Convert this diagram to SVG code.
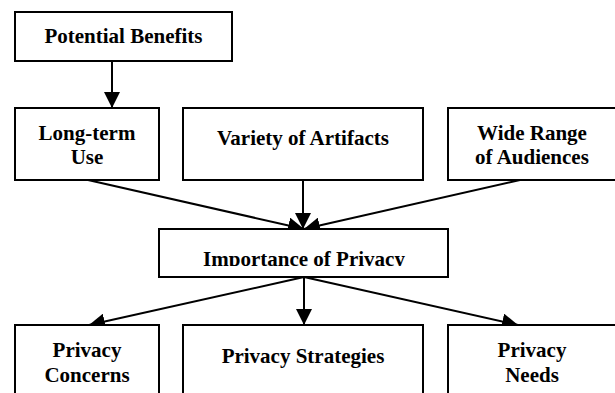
<svg xmlns="http://www.w3.org/2000/svg" width="615" height="393" viewBox="0 0 615 393">
<defs>
<style>
.box{fill:#fff;stroke:#000;stroke-width:2}
text{font-family:'Liberation Serif','Times New Roman','DejaVu Serif',serif;font-weight:bold;font-size:21px;fill:#000;text-anchor:middle}
.c{stroke:#000;stroke-width:2;fill:none;marker-end:url(#ah)}
</style>
<marker id="ah" viewBox="0 0 16 16" refX="16" refY="8" markerWidth="16" markerHeight="16" markerUnits="userSpaceOnUse" orient="auto">
<path d="M0,0 L16,8 L0,16 Z" fill="#000"/>
</marker>
<clipPath id="impclip"><rect x="150" y="225" width="310" height="41"/></clipPath>
</defs>
<rect width="615" height="393" fill="#fff"/>
<g id="connectors">
<line class="c" x1="88" y1="180" x2="304" y2="229"/>
<line class="c" x1="112" y1="61" x2="112" y2="108"/>
<line class="c" x1="303" y1="180" x2="303" y2="229"/>
<line class="c" x1="520" y1="180" x2="304" y2="229"/>
<line class="c" x1="304" y1="277" x2="89" y2="325"/>
<line class="c" x1="304" y1="277" x2="304" y2="325"/>
<line class="c" x1="304" y1="277" x2="518" y2="325"/>
</g>
<g id="potential-benefits">
<rect class="box" x="15" y="12" width="217" height="49"/>
<text x="123.5" y="43" font-family="Liberation Serif, serif">Potential Benefits</text>
</g>
<g id="long-term-use">
<rect class="box" x="15" y="108" width="144" height="72"/>
<text x="87" y="140" font-family="Liberation Serif, serif">Long-term</text>
<text x="87" y="164" font-family="Liberation Serif, serif">Use</text>
</g>
<g id="variety-of-artifacts">
<rect class="box" x="183" y="108" width="240" height="72"/>
<text x="303" y="145" font-family="Liberation Serif, serif">Variety of Artifacts</text>
</g>
<g id="wide-range-of-audiences">
<rect class="box" x="448" y="108" width="180" height="72"/>
<text x="532" y="140" font-family="Liberation Serif, serif">Wide Range</text>
<text x="532" y="164" font-family="Liberation Serif, serif">of Audiences</text>
</g>
<g id="importance-of-privacy">
<rect class="box" x="159" y="229" width="289" height="48"/>
<text x="304" y="266" clip-path="url(#impclip)" font-family="Liberation Serif, serif">Importance of Privacy</text>
</g>
<g id="privacy-concerns">
<rect class="box" x="15" y="325" width="144" height="80"/>
<text x="87" y="357" font-family="Liberation Serif, serif">Privacy</text>
<text x="87" y="382" font-family="Liberation Serif, serif">Concerns</text>
</g>
<g id="privacy-strategies">
<rect class="box" x="183" y="325" width="240" height="80"/>
<text x="303" y="363" font-family="Liberation Serif, serif">Privacy Strategies</text>
</g>
<g id="privacy-needs">
<rect class="box" x="448" y="325" width="180" height="80"/>
<text x="532" y="357" font-family="Liberation Serif, serif">Privacy</text>
<text x="532" y="382" font-family="Liberation Serif, serif">Needs</text>
</g>
</svg>
